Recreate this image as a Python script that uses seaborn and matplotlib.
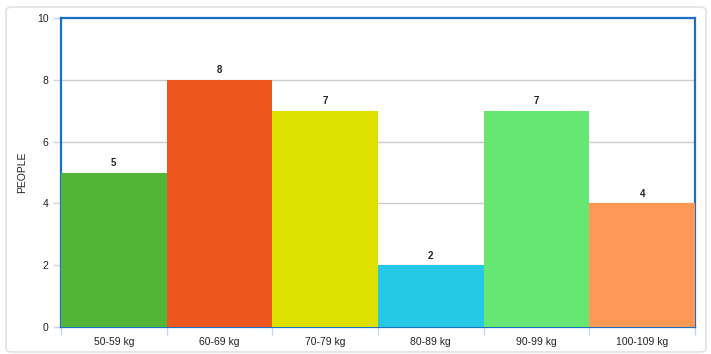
import matplotlib
matplotlib.use("Agg")
import matplotlib.pyplot as plt
import seaborn as sns
import pandas as pd
from matplotlib.patches import FancyBboxPatch

categories = ["50-59 kg", "60-69 kg", "70-79 kg", "80-89 kg", "90-99 kg", "100-109 kg"]
people = [5, 8, 7, 2, 7, 4]
colors = ["#52b536", "#ee561f", "#dee000", "#25c9e5", "#66e673", "#ff9955"]
yticks = [0, 2, 4, 6, 8, 10]

sns.set_theme(style="white")
plt.rcParams['font.family'] = ['Liberation Sans', 'DejaVu Sans']

df = pd.DataFrame({"cat": categories, "people": people})

fig = plt.figure(figsize=(7.11, 3.54), dpi=100)
card = FancyBboxPatch((6/711, 2/354), 700/711, 345/354,
                      boxstyle="round,pad=0,rounding_size=0.01",
                      transform=fig.transFigure, facecolor="none",
                      edgecolor="#e2e2e2", linewidth=1.2, zorder=-5)
fig.patches.append(card)

ax = fig.add_axes([61/711, 1 - 327/354, (695 - 61)/711, (327 - 18)/354])
ax.set_facecolor("white")
sns.barplot(data=df, x="cat", y="people", hue="cat", palette=colors,
            width=1.0, legend=False, ax=ax, zorder=3, saturation=1,
            linewidth=0, edgecolor="none")

ax.set_ylim(0, 10)
ax.set_xlim(-0.5, len(categories) - 0.5)
ax.set_yticks(yticks)
ax.yaxis.grid(True, color="#cccccc", linewidth=1, zorder=0)
ax.set_axisbelow(True)

for i, v in enumerate(people):
    ax.text(i, v + 0.15, str(v), ha="center", va="bottom", fontsize=7,
            fontweight="bold", color="#222222", zorder=5)

for s in ax.spines.values():
    s.set_color("#1a70c2")
    s.set_linewidth(1.6)

ax.set_xlabel("")
ax.set_ylabel("PEOPLE", fontsize=7.5, color="#222222")
ax.yaxis.set_label_coords((27 - 61) / 634, 0.5)
ax.tick_params(axis="y", which="both", length=6, color="#c5d8ee", width=1,
               labelsize=7.5, labelcolor="#222222", left=True, pad=3)
ax.set_xticks(range(len(categories)))
ax.set_xticklabels(categories)
ax.tick_params(axis="x", length=0, labelsize=7.5, labelcolor="#222222", pad=7, bottom=True)
ax.set_xticks([i - 0.5 for i in range(len(categories) + 1)], minor=True)
ax.tick_params(axis="x", which="minor", length=6, color="#c5d8ee", width=1, bottom=True)

fig.savefig("out.png", dpi=100)
